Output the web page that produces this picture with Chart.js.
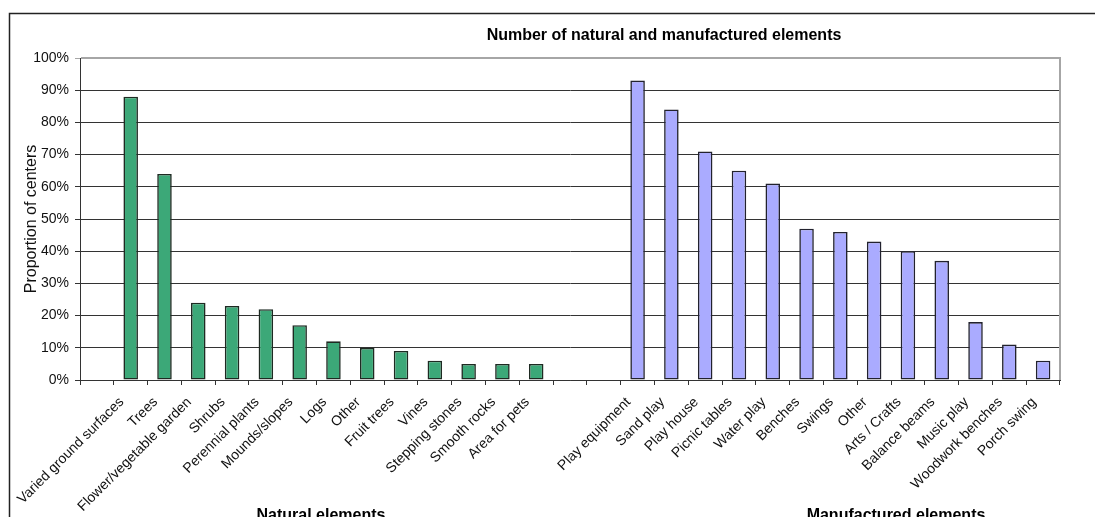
<!DOCTYPE html>
<html>
<head>
<meta charset="utf-8">
<title>Natural and manufactured elements</title>
<script src="https://cdn.jsdelivr.net/npm/chart.js@4.4.1/dist/chart.umd.min.js"></script>
<style>
  html, body { margin: 0; padding: 0; background: #fff; }
  canvas { display: block; }
</style>
</head>
<body>
<canvas id="chart" width="1095" height="517"></canvas>
<script>
const naturalLabels = ['Varied ground surfaces', 'Trees', 'Flower/vegetable garden', 'Shrubs',
    'Perennial plants', 'Mounds/slopes', 'Logs', 'Other', 'Fruit trees', 'Vines',
    'Stepping stones', 'Smooth rocks', 'Area for pets'];
const naturalValues = [88, 64, 24, 23, 22, 17, 12, 10, 9, 6, 5, 5, 5];

const manufacturedLabels = ['Play equipment', 'Sand play', 'Play house', 'Picnic tables',
    'Water play', 'Benches', 'Swings', 'Other', 'Arts / Crafts', 'Balance beams',
    'Music play', 'Woodwork benches', 'Porch swing'];
const manufacturedValues = [93, 84, 71, 65, 61, 47, 46, 43, 40, 37, 18, 11, 6];

const yTicks = [0, 10, 20, 30, 40, 50, 60, 70, 80, 90, 100];

const FONT = "'Liberation Sans', Arial, sans-serif";

// one empty slot before the natural group, two between the groups
const labels = [''].concat(naturalLabels, ['', ''], manufacturedLabels);
const blankN = manufacturedLabels.map(function () { return null; });
const blankM = naturalLabels.map(function () { return null; });
const naturalData = [null].concat(naturalValues, [null, null], blankN);
const manufacturedData = [null].concat(blankM, [null, null], manufacturedValues);

const frame = {
    id: 'frame',
    beforeDraw: function (chart) {
        const ctx = chart.ctx;
        ctx.save();
        ctx.fillStyle = '#fff';
        ctx.fillRect(0, 0, chart.width, chart.height);
        ctx.strokeStyle = '#222';
        ctx.lineWidth = 1.5;
        ctx.strokeRect(9.5, 13.5, chart.width + 20, chart.height + 20);
        ctx.restore();
    },
    afterDraw: function (chart) {
        const ctx = chart.ctx;
        const a = chart.chartArea;
        ctx.save();
        // plot area border (top and right)
        ctx.strokeStyle = '#a6a6a6';
        ctx.lineWidth = 2;
        ctx.beginPath();
        ctx.moveTo(a.left + 1, a.top);
        ctx.lineTo(a.right, a.top);
        ctx.lineTo(a.right, a.bottom);
        ctx.stroke();

        ctx.fillStyle = '#000';
        ctx.textAlign = 'center';
        ctx.textBaseline = 'alphabetic';
        ctx.font = 'bold 16px ' + FONT;
        ctx.fillText('Number of natural and manufactured elements', 664, 40);
        ctx.fillText('Natural elements', 321, 520);
        ctx.fillText('Manufactured elements', 896, 520);
        ctx.restore();
    }
};

new Chart(document.getElementById('chart'), {
    type: 'bar',
    data: {
        labels: labels,
        datasets: [{
            label: 'Natural elements',
            data: naturalData,
            backgroundColor: '#3ca878',
            borderColor: '#1e2a22',
            borderWidth: 1.6,
            borderSkipped: false
        }, {
            label: 'Manufactured elements',
            data: manufacturedData,
            backgroundColor: '#aaabff',
            borderColor: '#22222e',
            borderWidth: 1.6,
            borderSkipped: false
        }]
    },
    options: {
        responsive: false,
        animation: false,
        devicePixelRatio: 1,
        grouped: false,
        barPercentage: 0.43,
        categoryPercentage: 1,
        layout: { padding: { top: 58, right: 35, left: 0, bottom: 0 } },
        plugins: {
            legend: { display: false },
            title: { display: false },
            tooltip: { enabled: false }
        },
        scales: {
            x: {
                offset: true,
                afterFit: function (scale) { scale.height = 137; },
                grid: {
                    offset: true,
                    drawOnChartArea: false,
                    drawTicks: true,
                    tickLength: 5,
                    color: '#333'
                },
                border: { color: '#333', width: 1 },
                ticks: {
                    autoSkip: false,
                    minRotation: 45,
                    maxRotation: 45,
                    padding: 9,
                    labelOffset: -9,
                    color: '#111',
                    font: { family: FONT, size: 14 }
                }
            },
            y: {
                min: 0,
                max: 100,
                afterFit: function (scale) { scale.width = 80; },
                afterBuildTicks: function (scale) {
                    scale.ticks = yTicks.map(function (v) { return { value: v }; });
                },
                title: {
                    display: true,
                    text: 'Proportion of centers',
                    color: '#111',
                    padding: { top: 22, bottom: 0 },
                    font: { family: FONT, size: 16 }
                },
                grid: {
                    color: function (c) { return c.tick && c.tick.value === 100 ? '#a6a6a6' : '#333'; },
                    lineWidth: 1,
                    tickLength: 5
                },
                border: { color: '#333', width: 1 },
                ticks: {
                    padding: 6,
                    color: '#111',
                    font: { family: FONT, size: 14 },
                    callback: function (v) { return v + '%'; }
                }
            }
        }
    },
    plugins: [frame]
});
</script>
</body>
</html>
